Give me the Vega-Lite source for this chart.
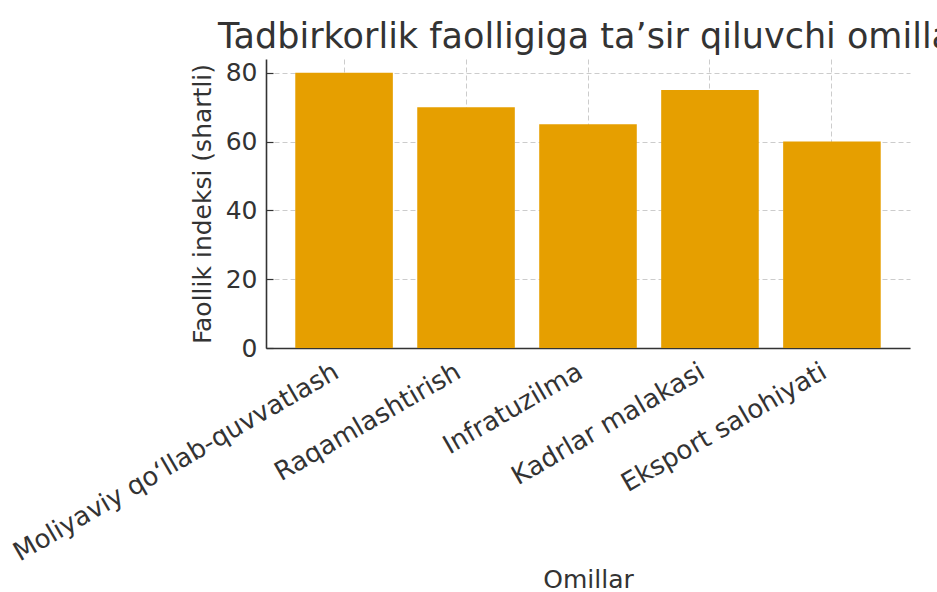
{
  "$schema": "https://vega.github.io/schema/vega-lite/v6.json",
  "autosize": {"type": "none"},
  "width": 644,
  "height": 289,
  "padding": {"left": 266, "top": 59, "right": 27, "bottom": 244},
  "background": "white",
  "config": {
    "font": "DejaVu Sans",
    "view": {"stroke": null},
    "axis": {
      "labelFont": "DejaVu Sans",
      "titleFont": "DejaVu Sans",
      "labelFontSize": 25,
      "titleFontSize": 25,
      "labelColor": "#333333",
      "titleColor": "#333333",
      "titleFontWeight": "normal",
      "labelLimit": 0,
      "domainColor": "#333333",
      "domainWidth": 1.6,
      "tickColor": "#333333",
      "tickWidth": 1.2,
      "tickSize": -7,
      "gridColor": "#cccccc",
      "gridDash": [5, 3],
      "gridWidth": 1
    }
  },
  "title": {
    "text": "Tadbirkorlik faolligiga ta’sir qiluvchi omillar",
    "font": "DejaVu Sans",
    "fontSize": 35,
    "fontWeight": "normal",
    "color": "#333333",
    "anchor": "start",
    "frame": "group",
    "dx": -48,
    "offset": 4
  },
  "data": {
    "values": [
      {"omil": "Moliyaviy qo‘llab-quvvatlash", "qiymat": 80},
      {"omil": "Raqamlashtirish", "qiymat": 70},
      {"omil": "Infratuzilma", "qiymat": 65},
      {"omil": "Kadrlar malakasi", "qiymat": 75},
      {"omil": "Eksport salohiyati", "qiymat": 60}
    ]
  },
  "mark": {"type": "bar", "color": "#E69F00"},
  "encoding": {
    "x": {
      "field": "omil",
      "type": "nominal",
      "sort": null,
      "title": "Omillar",
      "scale": {"paddingInner": 0.2, "paddingOuter": 0.24},
      "axis": {
        "labelAngle": -30,
        "labelAlign": "right",
        "labelBaseline": "top",
        "labelFontSize": 26,
        "labelOffset": -14,
        "labelPadding": 17,
        "titlePadding": 19,
        "grid": true
      }
    },
    "y": {
      "field": "qiymat",
      "type": "quantitative",
      "title": "Faollik indeksi (shartli)",
      "scale": {"domain": [0, 84], "nice": false},
      "axis": {
        "values": [0, 20, 40, 60, 80],
        "labelPadding": 16,
        "titlePadding": 10,
        "grid": true
      }
    }
  }
}
